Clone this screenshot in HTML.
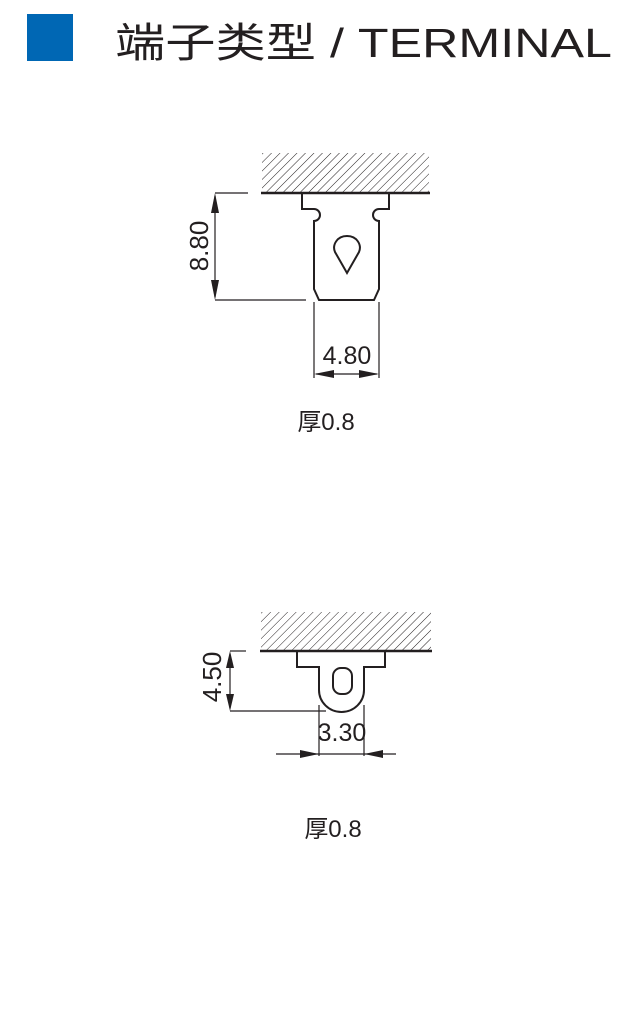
<!DOCTYPE html>
<html><head><meta charset="utf-8"><style>
html,body{margin:0;padding:0;background:#fff;}
svg{display:block;}
</style></head><body>
<svg width="627" height="1024" viewBox="0 0 627 1024" xmlns="http://www.w3.org/2000/svg">
<defs>
<pattern id="h" patternUnits="userSpaceOnUse" width="6" height="6" patternTransform="rotate(45)">
<line x1="0" y1="0" x2="0" y2="6" stroke="#231f20" stroke-width="1"/>
</pattern>
</defs>
<rect x="27" y="14" width="46" height="47" fill="#0067b4"/>
<text x="115" y="57" font-family="'Liberation Sans','Noto Sans CJK SC',sans-serif" font-size="41" fill="#231f20" textLength="497" lengthAdjust="spacingAndGlyphs">端子类型 / TERMINAL</text>

<g stroke="#231f20" fill="none" stroke-width="2">
<rect x="262" y="153" width="167" height="40" fill="url(#h)" stroke="none"/>
<line x1="261" y1="193" x2="430" y2="193" stroke-width="2.5"/>
<path d="M302 193 V209 H314 A6 6 0 0 1 314 221 V289 L319 300 H374 L379 289 V221 A6 6 0 0 1 379 209 H389 V193"/>
<path d="M347 236 C337 236 332 245 335 252 L347 273 L359 252 C362 245 357 236 347 236 Z"/>
<g stroke-width="1.2">
<line x1="215" y1="193" x2="248" y2="193"/>
<line x1="215" y1="300" x2="306" y2="300"/>
<line x1="215" y1="196" x2="215" y2="297"/>
<line x1="314" y1="302" x2="314" y2="378"/>
<line x1="379" y1="302" x2="379" y2="378"/>
<line x1="316" y1="374" x2="377" y2="374"/>
</g>
</g>
<g fill="#231f20">
<polygon points="215,193 211,213 219,213"/>
<polygon points="215,300 211,280 219,280"/>
<polygon points="314,374 334,370 334,378"/>
<polygon points="379,374 359,370 359,378"/>
</g>
<text transform="translate(208,246) rotate(-90)" text-anchor="middle" font-family="'Liberation Sans',sans-serif" font-size="26" fill="#231f20">8.80</text>
<text x="347" y="364" text-anchor="middle" font-family="'Liberation Sans',sans-serif" font-size="25" fill="#231f20">4.80</text>
<text x="326" y="430" text-anchor="middle" font-family="'Liberation Sans','Noto Sans CJK SC',sans-serif" font-size="24" fill="#231f20">厚0.8</text>

<g stroke="#231f20" fill="none" stroke-width="2">
<rect x="261" y="612" width="170" height="39" fill="url(#h)" stroke="none"/>
<line x1="260" y1="651" x2="432" y2="651" stroke-width="2.5"/>
<path d="M297 651 V667 H319 V690 A22.5 22 0 0 0 364 690 V667 H385 V651"/>
<rect x="333" y="668" width="19" height="26" rx="8" ry="8"/>
<g stroke-width="1.2">
<line x1="230" y1="651" x2="246" y2="651"/>
<line x1="230" y1="711" x2="326" y2="711"/>
<line x1="230" y1="654" x2="230" y2="708"/>
<line x1="319" y1="705" x2="319" y2="756"/>
<line x1="364" y1="705" x2="364" y2="756"/>
<line x1="276" y1="754" x2="396" y2="754"/>
</g>
</g>
<g fill="#231f20">
<polygon points="230,651 226,668 234,668"/>
<polygon points="230,711 226,694 234,694"/>
<polygon points="319,754 300,750 300,758"/>
<polygon points="364,754 383,750 383,758"/>
</g>
<text transform="translate(221,677) rotate(-90)" text-anchor="middle" font-family="'Liberation Sans',sans-serif" font-size="26" fill="#231f20">4.50</text>
<text x="342" y="741" text-anchor="middle" font-family="'Liberation Sans',sans-serif" font-size="25" fill="#231f20">3.30</text>
<text x="333" y="837" text-anchor="middle" font-family="'Liberation Sans','Noto Sans CJK SC',sans-serif" font-size="24" fill="#231f20">厚0.8</text>
</svg>
</body></html>
